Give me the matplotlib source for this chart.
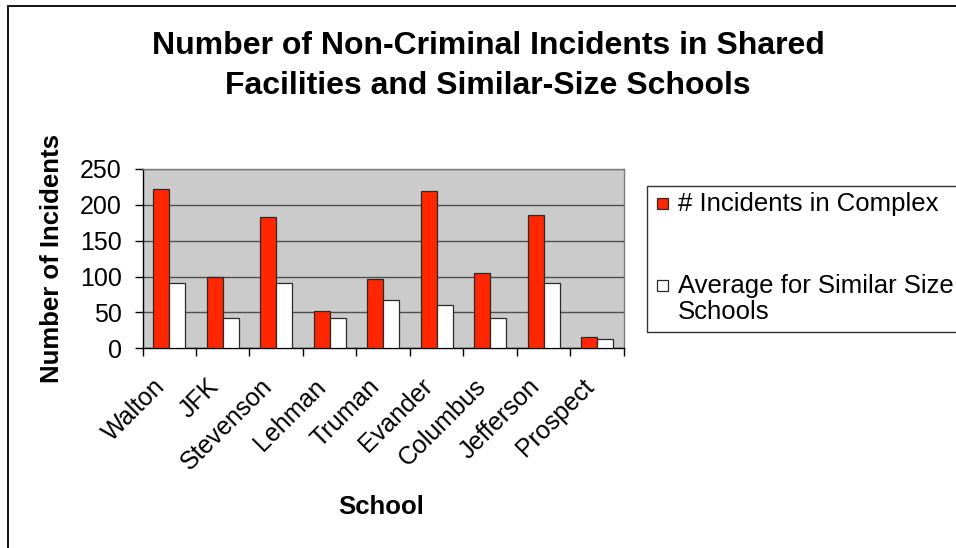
import matplotlib
matplotlib.use("Agg")
import matplotlib.pyplot as plt
import matplotlib.transforms as mtransforms
from matplotlib.patches import Rectangle
import numpy as np

plt.rcParams['font.family'] = ['Liberation Sans', 'DejaVu Sans']

schools = ["Walton", "JFK", "Stevenson", "Lehman", "Truman", "Evander",
           "Columbus", "Jefferson", "Prospect"]
incidents_complex = [222, 100, 183, 52, 96, 219, 105, 186, 16]
avg_similar = [91, 42, 91, 42, 67, 61, 42, 91, 13]
y_ticks = [0, 50, 100, 150, 200, 250]
series_names = ["# Incidents in Complex", "Average for Similar Size\nSchools"]
title = "Number of Non-Criminal Incidents in Shared\nFacilities and Similar-Size Schools"

W, H = 956, 548
fig = plt.figure(figsize=(W / 100, H / 100), dpi=100)
fig.patch.set_facecolor("white")

def fx(px):
    return px / W

def fy(py):
    return 1 - py / H

# outer chart border (extends beyond right/bottom edges)
fig.patches.append(Rectangle((fx(8), fy(560)), fx(1000) - fx(8), fy(6) - fy(560),
                             transform=fig.transFigure, fill=False,
                             edgecolor="black", linewidth=1.3))

ax_l, ax_r, ax_t, ax_b = 142.5, 624, 169, 348.3
ax = fig.add_axes([fx(ax_l), fy(ax_b), fx(ax_r - ax_l), (ax_b - ax_t) / H])
ax.set_facecolor("#CBCBCB")

x = np.arange(len(schools))
bw = 0.3
red = "#FF2600"
ax.bar(x - bw / 2, incidents_complex, width=bw, color=red, edgecolor="#2a2a2a",
       linewidth=0.9, zorder=3)
ax.bar(x + bw / 2, avg_similar, width=bw, color="white", edgecolor="#2a2a2a",
       linewidth=0.9, zorder=3)

ax.set_xlim(-0.5, len(schools) - 0.5)
ax.set_ylim(0, 250)
ax.set_yticks(y_ticks)
ax.set_yticklabels([str(v) for v in y_ticks], fontsize=18)
ax.yaxis.grid(True, color="#4f4f4f", linewidth=1.0, zorder=1)
ax.set_axisbelow(True)

ax.set_xticks(x)
ax.set_xticks(np.arange(len(schools) + 1) - 0.5, minor=True)
ax.tick_params(axis="x", which="major", length=0, pad=18.7)
ax.tick_params(axis="x", which="minor", length=5.5, width=1.0, direction="out", color="black")
ax.tick_params(axis="y", length=5.8, width=1.0, direction="out", pad=9.0, color="black")
ax.set_xticklabels(schools, fontsize=18, rotation=45, ha="right", va="top",
                   rotation_mode="anchor")
offset = mtransforms.ScaledTranslation(-0.16, 0, fig.dpi_scale_trans)
for lbl in ax.get_xticklabels():
    lbl.set_transform(lbl.get_transform() + offset)

for side in ["left", "bottom"]:
    ax.spines[side].set_color("black")
    ax.spines[side].set_linewidth(1.0)
for side in ["top", "right"]:
    ax.spines[side].set_color("#7a7a7a")
    ax.spines[side].set_linewidth(1.0)

ax.set_ylabel("Number of Incidents", fontsize=18.5, fontweight="bold", va="center")
ax.yaxis.set_label_coords((52 - ax_l) / (ax_r - ax_l), 0.5)
ax.set_xlabel("School", fontsize=18.5, fontweight="bold", va="center")
ax.xaxis.set_label_coords((381 - ax_l) / (ax_r - ax_l), -(507 - ax_b) / (ax_b - ax_t))

fig.text(fx(488), fy(66), title, ha="center", va="center", fontsize=23,
         fontweight="bold", linespacing=1.45)

# legend (manual, frame runs off right edge like the reference)
fig.patches.append(Rectangle((fx(647), fy(332)), fx(1000) - fx(647), fy(186) - fy(332),
                             transform=fig.transFigure, facecolor="white",
                             edgecolor="#333333", linewidth=1.0))
colors = [red, "white"]
centers = [203, 285]
for name, col, cy in zip(series_names, colors, centers):
    fig.patches.append(Rectangle((fx(657), fy(cy + 5.5)), fx(11), 11 / H,
                                 transform=fig.transFigure, facecolor=col,
                                 edgecolor="#2a2a2a", linewidth=0.9))
    fig.text(fx(678), fy(cy - 11), name, ha="left", va="top", fontsize=18.5,
             linespacing=1.1)

fig.savefig("out.png", dpi=100)
